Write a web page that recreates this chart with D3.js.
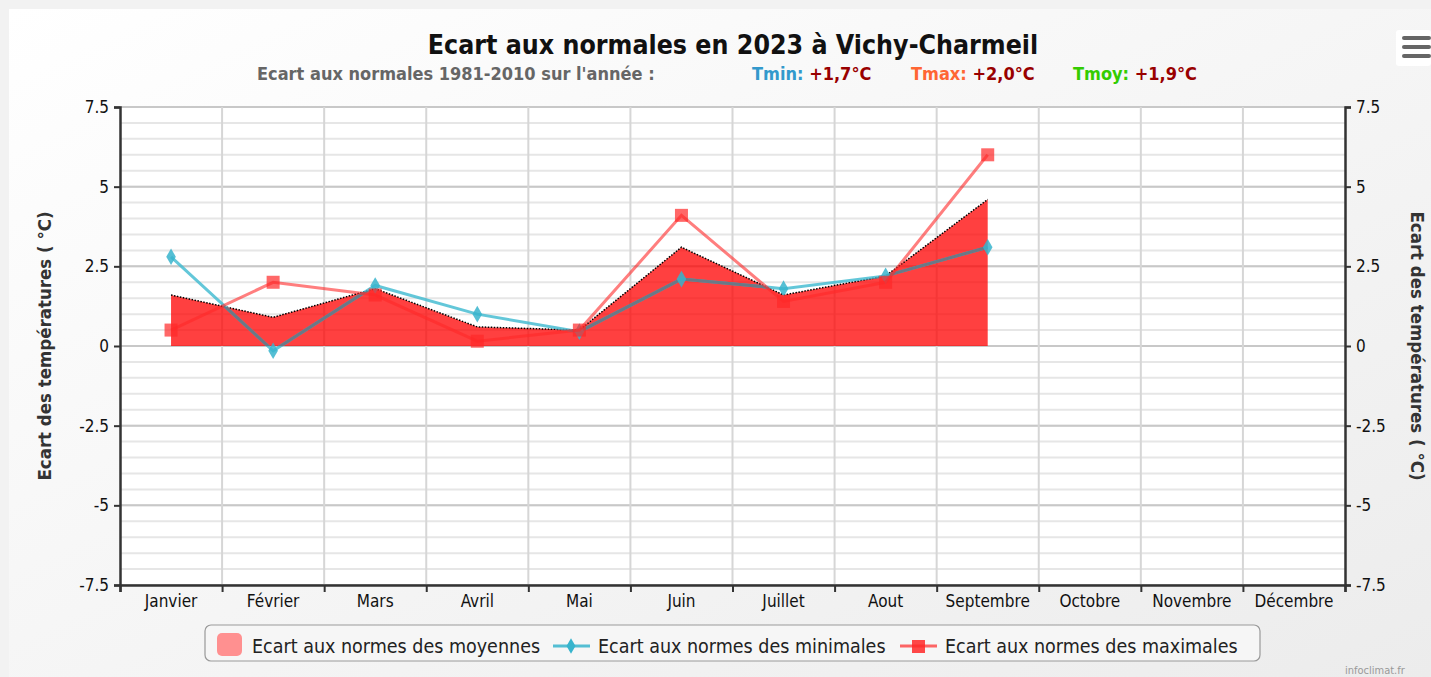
<!DOCTYPE html>
<html>
<head>
<meta charset="utf-8">
<script src="https://cdn.jsdelivr.net/npm/d3@7"></script>
<style>
  body { margin:0; background:#fff; }
  svg text { font-family: "DejaVu Sans Condensed", "DejaVu Sans", sans-serif; }
</style>
</head>
<body>
<div id="chart"></div>
<script>
// data
var months = ["Janvier","Février","Mars","Avril","Mai","Juin","Juillet","Aout","Septembre","Octobre","Novembre","Décembre"];
var ecartMoy = [1.6, 0.9, 1.8, 0.6, 0.5, 3.1, 1.6, 2.2, 4.6];
var ecartMin = [2.8, -0.15, 1.9, 1.0, 0.45, 2.1, 1.8, 2.2, 3.1];
var ecartMax = [0.5, 2.0, 1.6, 0.15, 0.5, 4.1, 1.4, 2.0, 6.0];
var yTicks = [-7.5, -5, -2.5, 0, 2.5, 5, 7.5];
var legendLabels = ["Ecart aux normes des moyennes", "Ecart aux normes des minimales", "Ecart aux normes des maximales"];

var size = { width:1431, height:677, left:120, right:1345, top:107, bottom:585 };

var svg = d3.select("#chart").append("svg")
            .attr("width", size.width)
            .attr("height", size.height);

var defs = svg.append("defs");
var grad = defs.append("linearGradient").attr("id","bg").attr("x1",0).attr("y1",0).attr("x2",1).attr("y2",1);
grad.append("stop").attr("offset","0%").attr("stop-color","#ffffff");
grad.append("stop").attr("offset","100%").attr("stop-color","#ececec");

svg.append("rect").attr("width", size.width).attr("height", size.height).attr("fill","#f2f2f2");
svg.append("rect").attr("x",9).attr("y",9).attr("width", size.width-9).attr("height", size.height-9)
   .attr("fill","url(#bg)");

var x = d3.scaleBand().domain(months).range([size.left, size.right]);
var xLin = d3.scaleLinear().domain([0, 12]).range([size.left, size.right]);
var y = d3.scaleLinear().domain([-7.5, 7.5]).range([size.bottom, size.top]);

// plot background
svg.append("rect")
   .attr("x", size.left).attr("y", size.top)
   .attr("width", size.right - size.left).attr("height", size.bottom - size.top)
   .attr("fill", "#fff");

// minor grid
var minor = d3.range(-7.5, 7.51, 0.5);
svg.append("g").selectAll("line").data(minor).enter().append("line")
   .attr("x1", size.left).attr("x2", size.right)
   .attr("y1", function(d){ return y(d); }).attr("y2", function(d){ return y(d); })
   .attr("stroke", "#e6e6e6").attr("stroke-width", 2);
// major grid
svg.append("g").selectAll("line").data(yTicks).enter().append("line")
   .attr("x1", size.left).attr("x2", size.right)
   .attr("y1", function(d){ return y(d); }).attr("y2", function(d){ return y(d); })
   .attr("stroke", "#c8c8c8").attr("stroke-width", 2);
// vertical grid
svg.append("g").selectAll("line").data(d3.range(1, 12)).enter().append("line")
   .attr("x1", function(d){ return xLin(d); }).attr("x2", function(d){ return xLin(d); })
   .attr("y1", size.top).attr("y2", size.bottom)
   .attr("stroke", "#d6d6d6").attr("stroke-width", 2);

function cx(i) { return x(months[i]) + x.bandwidth()/2; }

var line = d3.line().x(function(d,i){ return cx(i); }).y(function(d){ return y(d); });

// mean area
var area = d3.area()
   .x(function(d, i){ return cx(i); })
   .y0(y(0))
   .y1(function(d){ return y(d); });
svg.append("path").datum(ecartMoy)
   .attr("d", area)
   .attr("fill", "rgba(255,0,0,0.75)");
svg.append("path").datum(ecartMoy)
   .attr("d", line)
   .attr("fill", "none").attr("stroke", "#000").attr("stroke-width", 1.5)
   .attr("stroke-dasharray", "1.5,1.5");
defs.append("clipPath").attr("id", "areaClip")
   .append("path").datum(ecartMoy).attr("d", area);

// minimales
svg.append("path").datum(ecartMin)
   .attr("d", line)
   .attr("fill", "none").attr("stroke", "rgba(60,185,208,0.8)").attr("stroke-width", 3);
// the cyan line looks grey where it crosses the red area
svg.append("path").datum(ecartMin)
   .attr("d", line).attr("clip-path", "url(#areaClip)")
   .attr("fill", "none").attr("stroke", "#6b7886").attr("stroke-width", 3);
svg.append("g").selectAll("path").data(ecartMin).enter().append("path")
   .attr("d", d3.symbol().type(d3.symbolDiamond).size(80))
   .attr("transform", function(d,i){ return "translate(" + cx(i) + "," + y(d) + ")"; })
   .attr("fill", "rgba(55,180,205,0.85)");

// maximales
svg.append("path").datum(ecartMax)
   .attr("d", line)
   .attr("fill", "none").attr("stroke", "rgba(255,40,40,0.6)").attr("stroke-width", 3);
svg.append("g").selectAll("rect").data(ecartMax).enter().append("rect")
   .attr("x", function(d,i){ return cx(i) - 6.5; })
   .attr("y", function(d){ return y(d) - 6.5; })
   .attr("width", 13).attr("height", 13)
   .attr("fill", "rgba(255,40,40,0.7)");

// axes
var fmt = function(d){ return String(d); };
var axL = svg.append("g").attr("transform", "translate(" + size.left + ",0)")
   .call(d3.axisLeft(y).tickValues(yTicks).tickFormat(fmt).tickSize(6).tickPadding(5));
var axR = svg.append("g").attr("transform", "translate(" + size.right + ",0)")
   .call(d3.axisRight(y).tickValues(yTicks).tickFormat(fmt).tickSize(6).tickPadding(5));
var axB = svg.append("g").attr("transform", "translate(0," + size.bottom + ")")
   .call(d3.axisBottom(xLin).tickValues(d3.range(0, 13)).tickFormat("").tickSize(7));
var axBL = svg.append("g").attr("transform", "translate(0," + size.bottom + ")")
   .call(d3.axisBottom(x).tickSize(0).tickPadding(10));
axBL.select(".domain").remove();

[axL, axR, axB].forEach(function(a){
  a.select(".domain").attr("stroke", "#333").attr("stroke-width", 2.5);
  a.selectAll(".tick line").attr("stroke", "#333").attr("stroke-width", 2);
});
[axL, axR, axBL].forEach(function(a){
  a.selectAll("text").attr("fill", "#111").style("font-size", "17px")
   .style("font-family", '"DejaVu Sans Condensed", sans-serif');
});

// axis titles
svg.append("text")
   .attr("transform", "translate(51," + y(0) + ") rotate(-90)")
   .attr("text-anchor", "middle")
   .style("font-size", "18.5px").style("font-weight", "bold").attr("fill", "#333")
   .text("Ecart des températures ( °C)");
svg.append("text")
   .attr("transform", "translate(1411," + y(0) + ") rotate(90)")
   .attr("text-anchor", "middle")
   .style("font-size", "18.5px").style("font-weight", "bold").attr("fill", "#333")
   .text("Ecart des températures ( °C)");

// title
svg.append("text").attr("x", 733).attr("y", 54).attr("text-anchor", "middle")
   .style("font-size", "26.5px").style("font-weight", "bold").attr("fill", "#111")
   .text("Ecart aux normales en 2023 à Vichy-Charmeil");

var sub = svg.append("g").style("font-size", "18px").style("font-weight", "bold");
function subText(xp, parts) {
  var t = sub.append("text").attr("x", xp).attr("y", 80);
  parts.forEach(function(p){ t.append("tspan").attr("fill", p[1]).text(p[0]); });
}
subText(257, [["Ecart aux normales 1981-2010 sur l'année :", "#666"]]);
subText(752, [["Tmin: ", "#3399cc"], ["+1,7°C", "#990000"]]);
subText(911, [["Tmax: ", "#ff6633"], ["+2,0°C", "#990000"]]);
subText(1073, [["Tmoy: ", "#33cc00"], ["+1,9°C", "#990000"]]);

// menu icon
var menu = svg.append("g");
menu.append("rect").attr("x", 1396).attr("y", 30).attr("width", 35).attr("height", 36).attr("rx", 3).attr("fill", "#fff");
menu.selectAll("line").data([38, 47, 56]).enter().append("line")
   .attr("x1", 1404).attr("x2", 1429).attr("y1", function(d){ return d; }).attr("y2", function(d){ return d; })
   .attr("stroke", "#666").attr("stroke-width", 4).attr("stroke-linecap", "round");

// legend
var lg = svg.append("g").style("font-size", "19.5px");
lg.append("rect").attr("x", 205).attr("y", 625).attr("width", 1055).attr("height", 36).attr("rx", 6)
   .attr("fill", "#f6f6f6").attr("stroke", "#999").attr("stroke-width", 1.2);
lg.append("rect").attr("x", 217).attr("y", 633).attr("width", 25).attr("height", 23).attr("rx", 5)
   .attr("fill", "#ff9090");
lg.append("text").attr("x", 252).attr("y", 653).attr("fill", "#222").text(legendLabels[0]);
lg.append("line").attr("x1", 553).attr("x2", 590).attr("y1", 646).attr("y2", 646)
   .attr("stroke", "rgba(55,180,205,0.85)").attr("stroke-width", 3);
lg.append("path").attr("d", d3.symbol().type(d3.symbolDiamond).size(70))
   .attr("transform", "translate(571,646)").attr("fill", "rgb(55,180,205)");
lg.append("text").attr("x", 598).attr("y", 653).attr("fill", "#222").text(legendLabels[1]);
lg.append("line").attr("x1", 900).attr("x2", 937).attr("y1", 646).attr("y2", 646)
   .attr("stroke", "rgba(255,40,40,0.7)").attr("stroke-width", 3);
lg.append("rect").attr("x", 912).attr("y", 640).attr("width", 13).attr("height", 13).attr("fill", "rgba(255,40,40,0.85)");
lg.append("text").attr("x", 945).attr("y", 653).attr("fill", "#222").text(legendLabels[2]);

// credit
svg.append("text").attr("x", 1345).attr("y", 674).style("font-size", "11px").attr("fill", "#999").text("infoclimat.fr");
</script>
</body>
</html>
